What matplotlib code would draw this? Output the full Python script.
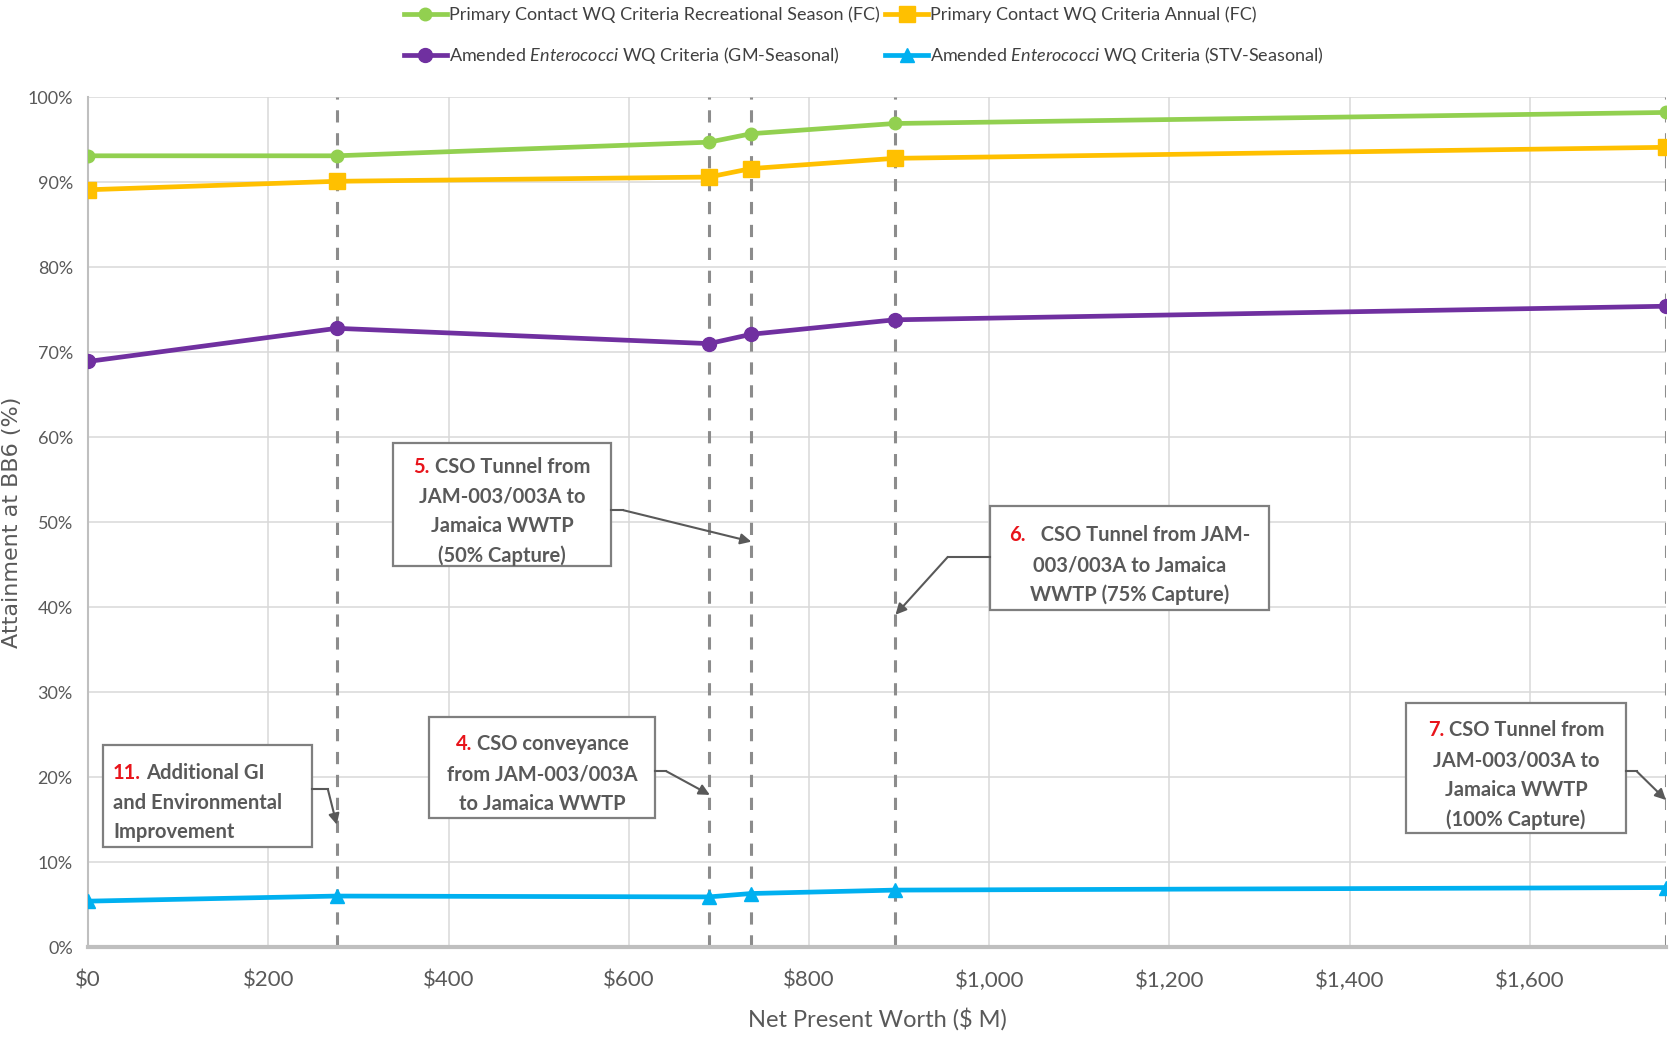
import matplotlib
matplotlib.use("Agg")
import matplotlib.pyplot as plt
from matplotlib.patches import Rectangle
from matplotlib.ticker import FuncFormatter, MultipleLocator

# Net present worth of each alternative ($ M)
npw = [0, 276, 689, 736, 895, 1751]

# Attainment at BB6 (%)
fc_recreational = [93.1, 93.1, 94.7, 95.7, 96.9, 98.2]
fc_annual = [89.1, 90.1, 90.6, 91.6, 92.8, 94.1]
ent_gm_seasonal = [68.9, 72.8, 71.0, 72.1, 73.8, 75.4]
ent_stv_seasonal = [5.4, 6.0, 5.9, 6.3, 6.7, 7.0]

series_labels = [
    "Primary Contact WQ Criteria Recreational Season (FC)",
    "Primary Contact WQ Criteria Annual (FC)",
    "Amended $\\mathit{Enterococci}$ WQ Criteria (GM-Seasonal)",
    "Amended $\\mathit{Enterococci}$ WQ Criteria (STV-Seasonal)",
]

# Alternative call-outs: number, text lines
notes = [
    ("11.", ["Additional GI", "and Environmental", "Improvement"]),
    ("4.", ["CSO conveyance", "from JAM-003/003A", "to Jamaica WWTP"]),
    ("5.", ["CSO Tunnel from", "JAM-003/003A to", "Jamaica WWTP", "(50% Capture)"]),
    ("6.", ["  CSO Tunnel from JAM-", "003/003A to Jamaica", "WWTP (75% Capture)"]),
    ("7.", ["CSO Tunnel from", "JAM-003/003A to", "Jamaica WWTP", "(100% Capture)"]),
]

FONT = ["Lato", "DejaVu Sans"]

plt.rcParams["mathtext.fontset"] = "custom"
plt.rcParams["mathtext.rm"] = "Lato"
plt.rcParams["mathtext.it"] = "Lato:italic"

GRAY_TXT = "#595959"
GRID = "#d9d9d9"

fig = plt.figure(figsize=(16.71, 10.39), dpi=100)
ax = fig.add_axes([0.0527, 0.0885, 0.9443, 0.818])

ax.set_xlim(0, 1751)
ax.set_ylim(0, 100)

ax.xaxis.set_major_locator(MultipleLocator(200))
ax.yaxis.set_major_locator(MultipleLocator(10))
ax.grid(True, color=GRID, lw=1.1, zorder=0)
ax.set_axisbelow(True)

for s in ["top", "right"]:
    ax.spines[s].set_visible(False)
ax.spines["left"].set_color("#bfbfbf")
ax.spines["left"].set_linewidth(1.5)
ax.spines["bottom"].set_color("#bfbfbf")
ax.spines["bottom"].set_linewidth(3)

ax.tick_params(axis="y", length=0, pad=11)
ax.tick_params(axis="x", length=0, pad=17)
ax.yaxis.set_major_formatter(FuncFormatter(lambda v, p: f"{v:.0f}%"))
ax.xaxis.set_major_formatter(FuncFormatter(lambda v, p: f"${v:,.0f}"))
for lab in ax.get_yticklabels():
    lab.set_fontfamily(FONT)
    lab.set_fontsize(13)
    lab.set_color(GRAY_TXT)
for lab in ax.get_xticklabels():
    lab.set_fontfamily(FONT)
    lab.set_fontsize(16)
    lab.set_color(GRAY_TXT)

ax.set_xlabel("Net Present Worth ($ M)", fontsize=17, color=GRAY_TXT,
              family=FONT, labelpad=12)
ax.set_ylabel("Attainment at BB6 (%)", fontsize=16, color=GRAY_TXT,
              family=["DejaVu Sans"])
ax.yaxis.set_label_coords(-0.042, 0.5)

# Dashed markers for each alternative
for x in npw[1:]:
    ax.axvline(x, color="#8c8c8c", ls=(0, (4, 3.5)), lw=2.2, zorder=1)

h_green, = ax.plot(npw, fc_recreational, color="#92d050", lw=3.4, marker="o",
                   ms=9, label=series_labels[0], zorder=4)
h_yellow, = ax.plot(npw, fc_annual, color="#ffc000", lw=3.4, marker="s", ms=11,
                    label=series_labels[1], zorder=4)
h_purple, = ax.plot(npw, ent_gm_seasonal, color="#7030a0", lw=3.4, marker="o",
                    ms=10, label=series_labels[2], zorder=4)
h_blue, = ax.plot(npw, ent_stv_seasonal, color="#00b0f0", lw=3.4, marker="^",
                  ms=10, label=series_labels[3], zorder=4)

# Column-wise fill: left column green/purple, right column yellow/blue
handles = [h_green, h_purple, h_yellow, h_blue]
leg = fig.legend(handles=handles, labels=[h.get_label() for h in handles],
                 loc="upper left", bbox_to_anchor=(0.234, 1.006), ncol=2,
                 frameon=False, prop={"family": FONT, "size": 13},
                 handlelength=2.4, handletextpad=0.1, columnspacing=0.3,
                 labelspacing=1.23, borderpad=0.2)
for t in leg.get_texts():
    t.set_color("#404040")

# Call-out boxes (data coords: x0, x1, y0, y1), arrow (start, knee, tip)
boxes = [
    (16.6, 248.5, 11.8, 23.8),
    (378.7, 629.6, 15.2, 27.1),
    (338.5, 580.0, 44.8, 59.3),
    (1001.0, 1311.0, 39.6, 51.9),
    (1462.7, 1706.5, 13.4, 28.7),
]
arrows = [
    ((248.5, 18.6), (266.0, 18.6), (276.0, 14.4)),
    ((629.6, 20.7), (641.4, 20.7), (690.0, 17.9)),
    ((580.0, 51.4), (594.0, 51.4), (736.0, 47.7)),
    ((1001.0, 45.9), (954.0, 45.9), (896.0, 39.1)),
    ((1706.5, 20.7), (1718.3, 20.7), (1751.0, 17.3)),
]
aligns = ["left", "center", "center", "center", "center"]

fig.canvas.draw()
renderer = fig.canvas.get_renderer()
to_data = ax.transData.inverted()
txt_kw = dict(fontsize=14.5, fontweight="bold", family=FONT, va="center",
              zorder=7)
LINE_GAP = 3.5
TEXT_DROP = 0.8

for (num, lines), (x0, x1, y0, y1), arr, align in zip(notes, boxes, arrows, aligns):
    ax.add_patch(Rectangle((x0, y0), x1 - x0, y1 - y0, facecolor="white",
                           edgecolor="#7f7f7f", lw=1.6, zorder=6))
    ymid = (y0 + y1) / 2 - TEXT_DROP
    n = len(lines)
    for i, line in enumerate(lines):
        y = ymid + (n - 1) / 2 * LINE_GAP - i * LINE_GAP
        if i == 0:
            t_num = ax.text(0, y, num, color="#e8141b", ha="left", **txt_kw)
            t_rest = ax.text(0, y, line, color=GRAY_TXT, ha="left", **txt_kw)
            w_num = t_num.get_window_extent(renderer).width
            w_rest = t_rest.get_window_extent(renderer).width
            gap = 5.0
            total = w_num + gap + w_rest
            if align == "left":
                start_px = ax.transData.transform((x0, y))[0] + 10
            else:
                cx = ax.transData.transform(((x0 + x1) / 2, y))[0]
                start_px = cx - total / 2
            yp = ax.transData.transform((0, y))[1]
            t_num.set_x(to_data.transform((start_px, yp))[0])
            t_rest.set_x(to_data.transform((start_px + w_num + gap, yp))[0])
        else:
            if align == "left":
                xl = to_data.transform((ax.transData.transform((x0, y))[0] + 10, 0))[0]
                ax.text(xl, y, line, color=GRAY_TXT, ha="left", **txt_kw)
            else:
                ax.text((x0 + x1) / 2, y, line, color=GRAY_TXT, ha="center", **txt_kw)
    start, knee, tip = arr
    ax.plot([start[0], knee[0]], [start[1], knee[1]], color="#595959", lw=1.5,
            zorder=6, clip_on=False)
    ax.annotate("", xy=tip, xytext=knee, zorder=6, annotation_clip=False,
                arrowprops=dict(arrowstyle="-|>", color="#595959", lw=1.5,
                                mutation_scale=16, shrinkA=0, shrinkB=0))

fig.savefig("out.png", dpi=100)
